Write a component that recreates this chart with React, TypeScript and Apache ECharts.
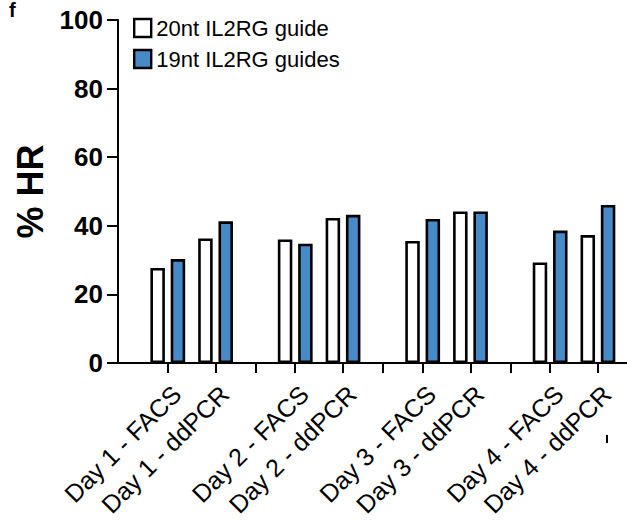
import React, { useEffect, useRef } from "react";
import * as echarts from "echarts";

const categories = [
  "Day 1 - FACS",
  "Day 1 - ddPCR",
  "Day 2 - FACS",
  "Day 2 - ddPCR",
  "Day 3 - FACS",
  "Day 3 - ddPCR",
  "Day 4 - FACS",
  "Day 4 - ddPCR",
];
const guide20 = [27.7, 36.3, 36.0, 42.3, 35.6, 44.2, 29.3, 37.3];
const guide19 = [30.3, 41.3, 34.8, 43.2, 42.0, 44.2, 38.6, 46.1];
const seriesNames = ["20nt IL2RG guide", "19nt IL2RG guides"];
const seriesColors = ["#ffffff", "#468ac8"];
const yTicks = [0, 20, 40, 60, 80, 100];

// layout: slots along the x axis (16 units per day; ddPCR 6 units after FACS; separator tick 11 units after FACS)
const DAY_SPAN = 16;
const DDPCR_OFFSET = 6;
const SEP_OFFSET = 11;
const posOf = (i: number) => Math.floor(i / 2) * DAY_SPAN + (i % 2) * DDPCR_OFFSET;
const catPositions = categories.map((_, i) => posOf(i));
const sepPositions = [0, 1, 2].map((d) => d * DAY_SPAN + SEP_OFFSET);

const FONT = "Liberation Sans, Arial, Helvetica, sans-serif";

export default function App() {
  const ref = useRef<HTMLDivElement>(null);
  useEffect(() => {
    if (!ref.current) return;
    const chart = echarts.init(ref.current, null, { renderer: "svg" });
    const labelFor = (v: number) => {
      const idx = catPositions.findIndex((p) => Math.abs(p - v) < 0.01);
      return idx >= 0 ? categories[idx] : "";
    };
    chart.setOption({
      animation: false,
      backgroundColor: "#fff",
      grid: { left: 118, right: 0, top: 20, bottom: 162, outerBoundsMode: "none", containLabel: false },
      legend: {
        orient: "vertical",
        left: 133,
        top: 17,
        padding: 0,
        icon: "rect",
        itemWidth: 17,
        itemHeight: 18,
        itemGap: 9,
        textStyle: { fontSize: 22, color: "#000", fontFamily: FONT },
        data: seriesNames.map((n, i) => ({
          name: n,
          icon: "rect",
          itemStyle: { color: seriesColors[i], borderColor: "#000", borderWidth: 2.4 },
        })),
      },
      xAxis: {
        type: "value",
        min: -6.25,
        max: 57.65,
        axisLine: { show: true, onZero: false, lineStyle: { color: "#000", width: 2 } },
        axisTick: {
          show: true,
          customValues: [...catPositions, ...sepPositions].sort((a, b) => a - b),
          length: 10,
          lineStyle: { color: "#000", width: 2 },
        },
        axisLabel: {
          customValues: catPositions,
          formatter: (v: number) => labelFor(v),
          rotate: 45,
          margin: 18,
          verticalAlign: "top",
          fontSize: 25,
          color: "#000",
          fontFamily: FONT,
        },
        splitLine: { show: false },
      },
      yAxis: {
        type: "value",
        min: yTicks[0],
        max: yTicks[yTicks.length - 1],
        interval: 20,
        name: "% HR",
        nameLocation: "middle",
        nameGap: 68,
        nameRotate: 90,
        nameTextStyle: { fontSize: 36, fontWeight: "bold", color: "#000", fontFamily: FONT },
        axisLine: { show: true, onZero: false, lineStyle: { color: "#000", width: 2 } },
        axisTick: { show: true, length: 11, lineStyle: { color: "#000", width: 2 } },
        axisLabel: { fontSize: 26, fontWeight: "bold", color: "#000", margin: 15, fontFamily: FONT },
        splitLine: { show: false },
      },
      series: [
        {
          name: seriesNames[0],
          type: "bar",
          barWidth: 14.5,
          barGap: "40%",
          itemStyle: { color: seriesColors[0], borderColor: "#000", borderWidth: 2.6 },
          data: guide20.map((v, i) => [catPositions[i], v]),
        },
        {
          name: seriesNames[1],
          type: "bar",
          barWidth: 14.5,
          barGap: "40%",
          itemStyle: { color: seriesColors[1], borderColor: "#000", borderWidth: 2.6 },
          data: guide19.map((v, i) => [catPositions[i], v]),
        },
      ],
      graphic: [
        {
          type: "text",
          left: 9,
          top: 0,
          style: { text: "f", fontSize: 20, fontWeight: "bold", fill: "#000", fontFamily: FONT },
        },
        {
          type: "rect",
          shape: { x: 606, y: 435, width: 2, height: 8 },
          style: { fill: "#000" },
        },
      ],
    });
    return () => chart.dispose();
  }, []);
  return (
    <div
      ref={ref}
      style={{ position: "absolute", left: 0, top: 0, width: 627, height: 525 }}
    />
  );
}
